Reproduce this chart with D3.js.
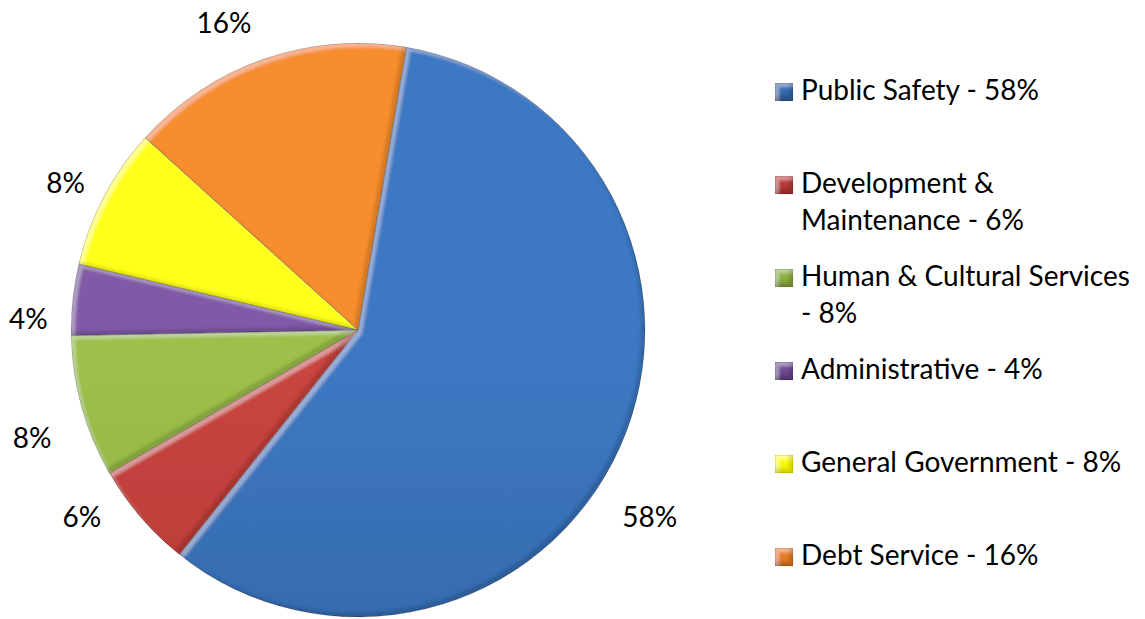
<!DOCTYPE html>
<html>
<head>
<meta charset="utf-8">
<script src="https://cdn.jsdelivr.net/npm/d3@7"></script>
<style>
  html, body { margin: 0; padding: 0; background: #fff; }
  svg { display: block; }
  text { font-family: Lato, "Open Sans", sans-serif; fill: #000; }
</style>
</head>
<body>
<svg id="chart" width="1145" height="619"></svg>
<script>
// Budget shares by department (percent)
const categories = [
  "Public Safety",
  "Development & Maintenance",
  "Human & Cultural Services",
  "Administrative",
  "General Government",
  "Debt Service"
];
const values = [58, 6, 8, 4, 8, 16];

// Slice colours: [lighter top, darker bottom]
const colorsLight = ["#3d78c2", "#c9453f", "#9cc04a", "#805aa6", "#ffff1a", "#f68d2e"];
const colorsDark  = ["#2d5a94", "#a3302e", "#7b9b34", "#5d3d80", "#f0f000", "#cf6f1e"];

// Percent label placement: angle nudge (degrees) and distance from centre
const labelNudge  = [8.4, 6.7, -2.7, -4.0, -0.8, -4.4];
const labelRadius = [346, 333, 343, 330, 328, 336];

const svg = d3.select("#chart");
const cx = 358, cy = 330, R = 287;
const startDeg = 9.7;

const defs = svg.append("defs");

// Bevel: light band along upper-left edges, dark band along lower-right edges
const f = defs.append("filter").attr("id", "bevel")
  .attr("x", "-5%").attr("y", "-5%").attr("width", "110%").attr("height", "110%");
f.append("feOffset").attr("in", "SourceAlpha").attr("dx", 4).attr("dy", 4).attr("result", "offA");
f.append("feComposite").attr("in", "SourceAlpha").attr("in2", "offA").attr("operator", "out").attr("result", "hlBand");
f.append("feGaussianBlur").attr("in", "hlBand").attr("stdDeviation", 1.6).attr("result", "hlBlur");
f.append("feFlood").attr("flood-color", "#ffffff").attr("flood-opacity", 0.3).attr("result", "white");
f.append("feComposite").attr("in", "white").attr("in2", "hlBlur").attr("operator", "in").attr("result", "hl");
f.append("feOffset").attr("in", "SourceAlpha").attr("dx", -4).attr("dy", -4).attr("result", "offB");
f.append("feComposite").attr("in", "SourceAlpha").attr("in2", "offB").attr("operator", "out").attr("result", "shBand");
f.append("feGaussianBlur").attr("in", "shBand").attr("stdDeviation", 1.6).attr("result", "shBlur");
f.append("feFlood").attr("flood-color", "#000000").attr("flood-opacity", 0.3).attr("result", "black");
f.append("feComposite").attr("in", "black").attr("in2", "shBlur").attr("operator", "in").attr("result", "sh");
const m = f.append("feMerge").attr("result", "merged");
m.append("feMergeNode").attr("in", "SourceGraphic");
m.append("feMergeNode").attr("in", "hl");
m.append("feMergeNode").attr("in", "sh");
f.append("feComposite").attr("in", "merged").attr("in2", "SourceAlpha").attr("operator", "in");

// Vertical gradients over the whole pie
categories.forEach((c, i) => {
  const g = defs.append("linearGradient").attr("id", "grad" + i)
    .attr("gradientUnits", "userSpaceOnUse")
    .attr("x1", 0).attr("y1", cy - R).attr("x2", 0).attr("y2", cy + R);
  g.append("stop").attr("offset", "0%").attr("stop-color", colorsLight[i]);
  g.append("stop").attr("offset", "100%").attr("stop-color", colorsDark[i]);
});

// Small legend-key gradients
categories.forEach((c, i) => {
  const g = defs.append("linearGradient").attr("id", "key" + i)
    .attr("x1", 0).attr("y1", 0).attr("x2", 0).attr("y2", 1);
  g.append("stop").attr("offset", "0%").attr("stop-color", colorsLight[i]);
  g.append("stop").attr("offset", "100%").attr("stop-color", colorsDark[i]);
});

const pie = d3.pie().sort(null).value(d => d)
  .startAngle(startDeg * Math.PI / 180)
  .endAngle(startDeg * Math.PI / 180 + 2 * Math.PI);
const arcs = pie(values);
const arc = d3.arc().innerRadius(0).outerRadius(R);

const gPie = svg.append("g").attr("transform", `translate(${cx},${cy})`);
gPie.selectAll("path.slice")
  .data(arcs)
  .join("path")
  .attr("class", "slice")
  .attr("d", arc)
  .attr("fill", (d, i) => `url(#grad${i})`)
  .attr("stroke", "rgba(0,0,0,0.45)")
  .attr("stroke-width", 0.9)
  .attr("stroke-linejoin", "round")
  .attr("filter", "url(#bevel)");

// Percent labels around the pie
gPie.selectAll("text.pct")
  .data(arcs)
  .join("text")
  .attr("class", "pct")
  .attr("x", (d, i) => {
    const a = (d.startAngle + d.endAngle) / 2 + labelNudge[i] * Math.PI / 180;
    return labelRadius[i] * Math.sin(a);
  })
  .attr("y", (d, i) => {
    const a = (d.startAngle + d.endAngle) / 2 + labelNudge[i] * Math.PI / 180;
    return -labelRadius[i] * Math.cos(a);
  })
  .attr("text-anchor", "middle")
  .attr("dominant-baseline", "central")
  .attr("font-size", 28)
  .text(d => d.data + "%");

// Legend
const legendX = 775, legendTop = 100, legendStep = 93, lineH = 36.5, maxW = 336;
const gLeg = svg.append("g");
categories.forEach((c, i) => {
  const base = legendTop + i * legendStep;
  const row = gLeg.append("g");
  row.append("rect")
    .attr("x", legendX).attr("y", base - 17)
    .attr("width", 18).attr("height", 18)
    .attr("fill", `url(#key${i})`)
    .attr("stroke", "rgba(0,0,0,0.35)").attr("stroke-width", 0.7)
    .attr("filter", "url(#bevel)");
  const t = row.append("text")
    .attr("x", legendX + 26).attr("y", base)
    .attr("font-size", 28);
  const words = (c + " - " + values[i] + "%").split(" ");
  let line = [], lineNo = 0;
  let ts = t.append("tspan").attr("x", legendX + 26).attr("y", base);
  words.forEach(w => {
    line.push(w);
    ts.text(line.join(" "));
    if (ts.node().getComputedTextLength() > maxW && line.length > 1) {
      line.pop();
      ts.text(line.join(" "));
      line = [w];
      lineNo++;
      ts = t.append("tspan").attr("x", legendX + 26).attr("y", base + lineNo * lineH).text(w);
    }
  });
});
</script>
</body>
</html>
